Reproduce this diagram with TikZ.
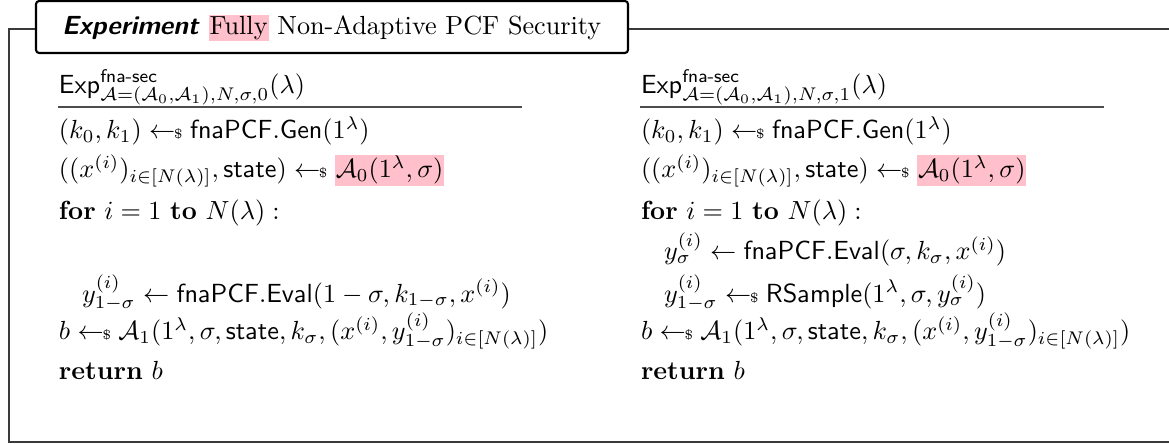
\documentclass[tikz,border=0pt]{standalone}
\usepackage{amsmath,amssymb}
\usepackage{xcolor}
\definecolor{hlpink}{HTML}{FFC0CB}
\definecolor{framegray}{HTML}{3A3A3A}
\newcommand{\smp}{\mathrel{\leftarrow\!\!\mbox{\tiny\$}}}
\newcommand{\hlp}[1]{{\setlength{\fboxsep}{0.4pt}\colorbox{hlpink}{#1}}}
\newcommand{\px}{0.3817pt}
\tikzset{
  line/.style={anchor=base west, inner sep=0pt, outer sep=0pt},
  frameline/.style={draw=framegray, line width=0.55pt},
  titlebox/.style={draw=black, line width=0.8pt, rounded corners=1.2pt, fill=white, inner sep=0pt},
  rule/.style={draw=black!70, line width=0.55pt}
}
\begin{document}
\begin{tikzpicture}[x=0.3817pt, y=-0.3817pt]
\useasboundingbox (0,0) rectangle (1169,444);
% frame
\coordinate (ftl) at (9,29);
\coordinate (fbl) at (9,442);
\coordinate (fbr) at (1180,442);
\coordinate (ftr) at (1180,29);
\node[titlebox, minimum width=592*\px, minimum height=52*\px] (title) at (332,27) {};
\draw[frameline] (title.west |- ftl) -- (ftl) -- (fbl) -- (fbr);
\draw[frameline] (title.east |- ftr) -- (ftr);
\node[line] (titletext) at (62,34.5) {\textsf{\textbf{\textit{Experiment}}} \hlp{Fully} Non-Adaptive PCF Security};
% left column
\node[line] (h0) at (59,94) {$\mathsf{Exp}^{\textsf{fna-sec}}_{\mathcal{A}=(\mathcal{A}_0,\mathcal{A}_1),N,\sigma,0}(\lambda)$};
\coordinate (u0a) at (58,107);
\coordinate (u0b) at (522,107);
\draw[rule] (u0a) -- (u0b);
\node[line] (l1) at (59,139) {$(k_0,k_1) \smp \mathsf{fnaPCF.Gen}(1^\lambda)$};
\node[line] (l2) at (59,178) {$((x^{(i)})_{i\in[N(\lambda)]},\mathsf{state}) \smp \hlp{$\mathcal{A}_0(1^\lambda,\sigma)$}$};
\node[line] (l3) at (59,219) {$\textbf{for}\ i = 1\ \textbf{to}\ N(\lambda) :$};
\node[line] (l4) at (82,302) {$y^{(i)}_{1-\sigma} \gets \mathsf{fnaPCF.Eval}(1-\sigma,k_{1-\sigma},x^{(i)})$};
\node[line] (l5) at (59,340) {$b \smp \mathcal{A}_1(1^\lambda,\sigma,\mathsf{state},k_\sigma,(x^{(i)},y^{(i)}_{1-\sigma})_{i\in[N(\lambda)]})$};
\node[line] (l6) at (59,379) {$\textbf{return}\ b$};
% right column
\node[line] (h1) at (641,94) {$\mathsf{Exp}^{\textsf{fna-sec}}_{\mathcal{A}=(\mathcal{A}_0,\mathcal{A}_1),N,\sigma,1}(\lambda)$};
\coordinate (u1a) at (640,107);
\coordinate (u1b) at (1104,107);
\draw[rule] (u1a) -- (u1b);
\node[line] (r1) at (641,139) {$(k_0,k_1) \smp \mathsf{fnaPCF.Gen}(1^\lambda)$};
\node[line] (r2) at (641,178) {$((x^{(i)})_{i\in[N(\lambda)]},\mathsf{state}) \smp \hlp{$\mathcal{A}_0(1^\lambda,\sigma)$}$};
\node[line] (r3) at (641,219) {$\textbf{for}\ i = 1\ \textbf{to}\ N(\lambda) :$};
\node[line] (r4) at (664,260) {$y^{(i)}_{\sigma} \gets \mathsf{fnaPCF.Eval}(\sigma,k_{\sigma},x^{(i)})$};
\node[line] (r5) at (664,302) {$y^{(i)}_{1-\sigma} \smp \mathsf{RSample}(1^\lambda,\sigma,y^{(i)}_{\sigma})$};
\node[line] (r6) at (641,340) {$b \smp \mathcal{A}_1(1^\lambda,\sigma,\mathsf{state},k_\sigma,(x^{(i)},y^{(i)}_{1-\sigma})_{i\in[N(\lambda)]})$};
\node[line] (r7) at (641,379) {$\textbf{return}\ b$};
\end{tikzpicture}
\end{document}
